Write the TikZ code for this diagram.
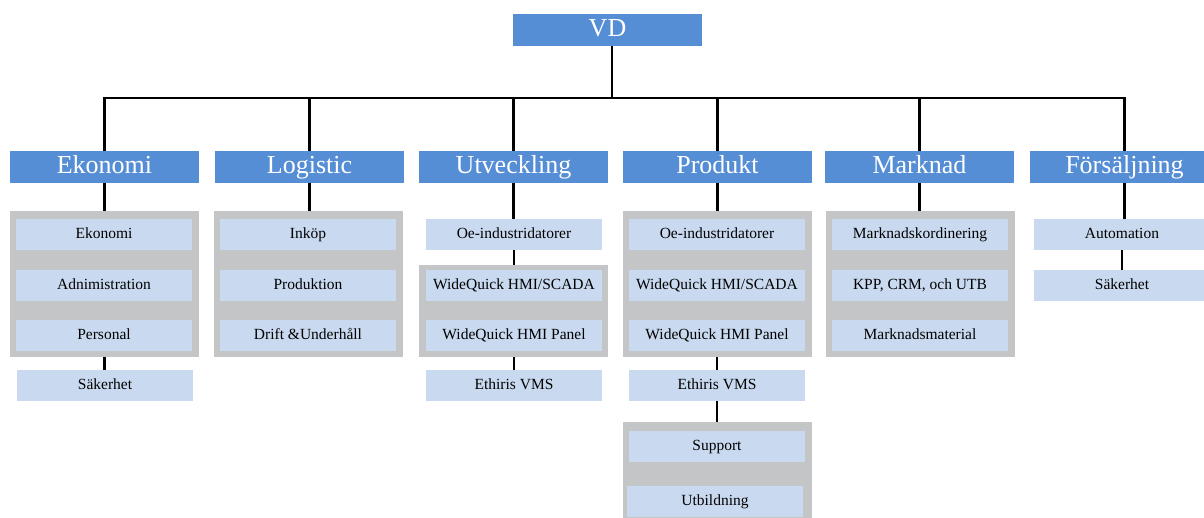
\documentclass[tikz,border=0pt]{standalone}
\usepackage{fontspec}
\setmainfont{Liberation Serif}
\definecolor{hdblue}{RGB}{85,142,213}
\definecolor{subblue}{RGB}{201,218,240}
\definecolor{grpgray}{RGB}{196,197,199}
\tikzset{
  box/.style={rectangle, inner sep=0pt, outer sep=0pt},
  head/.style={box, fill=hdblue, text=white, font=\fontsize{26}{26}\selectfont, minimum width=189pt, minimum height=32pt, text height=18pt, text depth=6pt},
  sub/.style={box, fill=subblue, text=black, font=\fontsize{15.5}{15.5}\selectfont, minimum width=176pt, minimum height=31pt, text height=11pt, text depth=3pt},
  grp/.style={box, fill=grpgray, minimum width=189pt},
  link/.style={line width=2.4pt, black},
}
\begin{document}
\begin{tikzpicture}[x=1pt,y=-1pt]
\useasboundingbox (0,0) rectangle (1204,517);
\clip (0,0) rectangle (1204,517);

% top
\node[head] (vd) at (607.5,30) {VD};

% heads
\node[head] (ek) at (104.5,167) {Ekonomi};
\node[head] (lo) at (309.5,167) {Logistic};
\node[head] (ut) at (513.5,167) {Utveckling};
\node[head] (pr) at (717.5,167) {Produkt};
\node[head] (ma) at (919.5,167) {Marknad};
\node[head] (fo) at (1124.5,167) {Försäljning};

% groups
\node[grp, minimum height=146pt] (ekg) at (104.5,284) {};
\node[grp, minimum height=146pt] (log) at (308.5,284) {};
\node[grp, minimum height=92pt]  (utg) at (513.5,311) {};
\node[grp, minimum height=146pt] (prg) at (717.5,284) {};
\node[grp, minimum height=118pt] (prg2) at (717.5,481) {};
\node[grp, minimum height=146pt] (mag) at (920.5,284) {};

% Ekonomi
\node[sub] (ek1) at (104,234.5) {Ekonomi};
\node[sub] (ek2) at (104,285.5) {Adnimistration};
\node[sub] (ek3) at (104,335.5) {Personal};
\node[sub] (ek4) at (105,385.5) {Säkerhet};
% Logistic
\node[sub] (lo1) at (308,234.5) {Inköp};
\node[sub] (lo2) at (308,285.5) {Produktion};
\node[sub] (lo3) at (308,335.5) {Drift \&Underhåll};
% Utveckling
\node[sub] (ut1) at (514,234.5) {Oe-industridatorer};
\node[sub] (ut2) at (514,285.5) {WideQuick HMI/SCADA};
\node[sub] (ut3) at (514,335.5) {WideQuick HMI Panel};
\node[sub] (ut4) at (514,385.5) {Ethiris VMS};
% Produkt
\node[sub] (pr1) at (717,234.5) {Oe-industridatorer};
\node[sub] (pr2) at (717,285.5) {WideQuick HMI/SCADA};
\node[sub] (pr3) at (717,335.5) {WideQuick HMI Panel};
\node[sub] (pr4) at (717,385.5) {Ethiris VMS};
\node[sub] (pr5) at (717,446.5) {Support};
\node[sub] (pr6) at (715,501.5) {Utbildning};
% Marknad
\node[sub] (ma1) at (920,234.5) {Marknadskordinering};
\node[sub] (ma2) at (920,285.5) {KPP, CRM, och UTB};
\node[sub] (ma3) at (920,335.5) {Marknadsmaterial};
% Forsaljning
\node[sub] (fo1) at (1122,234.5) {Automation};
\node[sub] (fo2) at (1122,285.5) {Säkerhet};

% bus
\coordinate (busL) at (104.5,98);
\coordinate (busR) at (1124.5,98);
\draw[link] ([xshift=-1.2pt]busL) -- ([xshift=1.2pt]busR);
\draw[link] ([xshift=4.5pt]vd.south) -- ([xshift=4.5pt]vd.south |- busL);
\foreach \n in {ek,lo,ut,pr,ma,fo}{
  \draw[link] (\n.north) -- (\n.north |- busL);
}

% head to group
\draw[link] (ek.south) -- (ek.south |- ekg.north);
\draw[link] (lo.south) -- (lo.south |- log.north);
\draw[link] (ut.south) -- (ut.south |- ut1.north);
\draw[link] (pr.south) -- (pr.south |- prg.north);
\draw[link] (ma.south) -- (ma.south |- mag.north);
\draw[link] (fo.south) -- (fo.south |- fo1.north);

% within columns
\draw[link] (ek4.north -| ek.south) -- (ek.south |- ekg.south);
\draw[link] (ut1.south) -- (ut1.south |- utg.north);
\draw[link] (ut4.north) -- (ut4.north |- utg.south);
\draw[link] (pr4.north) -- (pr4.north |- prg.south);
\draw[link] (pr4.south) -- (pr4.south |- prg2.north);
\draw[link] (fo1.south) -- (fo2.north);
\end{tikzpicture}
\end{document}
